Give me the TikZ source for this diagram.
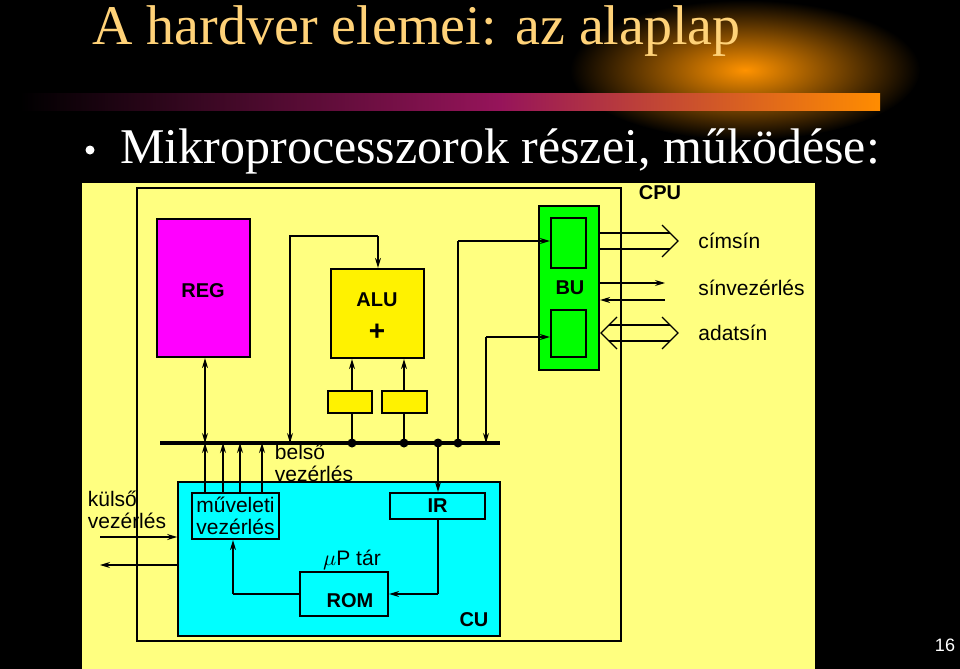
\documentclass[tikz,border=0pt]{standalone}
\usepackage{fontspec}
\setmainfont{Liberation Serif}
\newfontfamily\diagfont{Liberation Sans}
\usetikzlibrary{positioning,fit,arrows.meta,calc}
\definecolor{panelyellow}{RGB}{255,255,128}
\definecolor{cupcyan}{RGB}{0,255,255}
\definecolor{regpink}{RGB}{255,0,255}
\definecolor{titleorange}{RGB}{255,210,120}
\definecolor{barblue}{RGB}{20,20,110}
\definecolor{barpurple}{RGB}{150,20,90}
\tikzset{
  box/.style={draw, line width=1.1pt, inner sep=0pt},
  lbl/.style={font=\diagfont\fontsize{10.5}{11}\selectfont, inner sep=0pt, align=left},
  bold/.style={font=\diagfont\bfseries\fontsize{10}{11}\selectfont, inner sep=0pt},
  wire/.style={line width=0.6pt},
  arr/.style={line width=0.6pt, -{Stealth[length=5pt,width=3pt]}},
  dot/.style={circle, fill, inner sep=0pt, minimum size=4.5pt}
}
\begin{document}
\begin{tikzpicture}[x=0.5pt,y=-0.5pt]
\useasboundingbox (0,0) rectangle (960,669);
\fill[black] (0,0) rectangle (960,669);
% glow and bar
\shade[inner color=orange!85!yellow, outer color=black] (745,70) ellipse (175 and 70);
\shade[left color=black, right color=barpurple] (20,93) rectangle (500,110);
\shade[left color=barpurple, right color=orange!90!yellow] (500,93) rectangle (880,110);
\node[anchor=base west, text=titleorange, font=\fontsize{28}{30}\selectfont, inner sep=0pt] (title) at (92,44) {A hardver elemei: az alaplap};
\node[anchor=base west, text=white, font=\fontsize{25}{26}\selectfont, inner sep=0pt] (bullet) at (120,163) {Mikroprocesszorok részei, működése:};
\node[text=white, circle, fill=white, inner sep=0pt, minimum size=4.5pt] at (90,150) {};
\node[text=white, font=\diagfont\fontsize{9}{10}\selectfont, inner sep=0pt] (page) at (945,645) {16};
% panel
\fill[panelyellow] (82,183) rectangle (815,669);
\draw[line width=1.1pt] (137,188) rectangle (621,641);
\node[bold] (cpu) at (660,193) {CPU};
% blocks
\node[box, fill=regpink, fit={(157,219)(250,357)}] (reg) {};
\node[bold] at (203,291) {REG};
\node[box, fill=yellow, fit={(331,269)(424,358)}] (alu) {};
\node[bold] at (377,300) {ALU};
\node[font=\diagfont\bfseries\fontsize{14}{14}\selectfont, inner sep=0pt] at (377,332) {+};
\node[box, fill=yellow, fit={(328,391)(372,413)}] (opa) {};
\node[box, fill=yellow, fit={(382,391)(427,413)}] (opb) {};
\node[box, fill=green, fit={(539,206)(599,370)}] (bu) {};
\node[box, fit={(551,218)(586,268)}] (bua) {};
\node[box, fit={(551,310)(586,357)}] (bub) {};
\node[bold] at (570,288) {BU};
% control unit
\node[draw, line width=0.8pt, fill=cupcyan, fit={(178,482)(500,636)}, inner sep=0pt] (cu) {};
\node[bold] at (474,620) {CU};
\node[box, fit={(192,493)(279,539)}] (muv) {};
\node[lbl, align=center] at (muv) {műveleti\\vezérlés};
\node[box, fit={(390,493)(485,519)}] (ir) {};
\node[bold] at (ir) {IR};
\node[box, fit={(300,572)(388,616)}] (rom) {};
\node[bold] at (350,601) {ROM};
\node[lbl] (utar) at (352,560) {$\mu$P tár};
% bus
\coordinate (busL) at (160,443);
\coordinate (busR) at (500,443);
\draw[line width=1.6pt] (busL) -- (busR);
\node[lbl] (belso) at (314,463) {belső\\vezérlés};
% REG link
\draw[arr] (205,400) -- (reg.south -| 205,0);
\draw[arr] (205,400) -- (busL -| 205,0);
% ALU feedback
\coordinate (fbA) at (290,236);
\coordinate (fbB) at (378,236);
\draw[wire] (busL -| fbA) -- (fbA) -- (fbB);
\draw[arr] (290,400) -- (busL -| fbA);
\draw[arr] (fbB) -- (alu.north -| fbB);
% operand registers
\foreach \x/\b in {352/opa,404/opb}{
  \draw[arr] (\b.north -| \x,0) -- (alu.south -| \x,0);
  \draw[wire] (\b.south -| \x,0) -- (busL -| \x,0);
  \node[dot] at (busL -| \x,0) {};
}
% BU links
\coordinate (bA) at (458,241);
\coordinate (bB) at (486,337);
\node[dot] at (busL -| bA) {};
\draw[wire] (busL -| bA) -- (bA);
\draw[arr] (bA) -- (bua.west |- bA);
\draw[wire] (busL -| bB) -- (bB);
\draw[arr] (bB) -- (bub.west |- bB);
\draw[arr] (486,400) -- (busL -| bB);
% IR
\node[dot] at (busL -| 438,0) {};
\draw[arr] (busL -| 438,0) -- (ir.north -| 438,0);
\coordinate (irR) at (438,594);
\draw[wire] (ir.south -| irR) -- (irR);
\draw[arr] (irR) -- (rom.east |- irR);
% ROM to muveleti
\coordinate (romL) at (233,594);
\draw[wire] (rom.west |- romL) -- (romL);
\draw[arr] (romL) -- (muv.south -| romL);
\foreach \x in {205,223,240,262}
  \draw[arr] (muv.north -| \x,0) -- (busL -| \x,0);
% external control
\node[lbl] (kulso) at (127,510) {külső\\vezérlés};
\draw[arr] (100,537) -- (cu.west |- 0,537);
\draw[arr] (cu.west |- 0,565) -- (100,565);
% system bus
\draw[wire] (bu.east |- 0,233) -- (670,233);
\draw[wire] (bu.east |- 0,249) -- (670,249);
\draw[wire] (662,225) -- (678,241) -- (662,257);
\node[lbl, anchor=west] (cimsin) at (698,241) {címsín};
\draw[arr] (bu.east |- 0,283) -- (665,283);
\draw[arr] (665,300) -- (bu.east |- 0,300);
\node[lbl, anchor=west] (sinvez) at (698,288) {sínvezérlés};
\draw[wire] (609,325) -- (670,325);
\draw[wire] (609,341) -- (670,341);
\draw[wire] (617,317) -- (601,333) -- (617,349);
\draw[wire] (662,317) -- (678,333) -- (662,349);
\node[lbl, anchor=west] (adatsin) at (698,333) {adatsín};
\end{tikzpicture}
\end{document}
